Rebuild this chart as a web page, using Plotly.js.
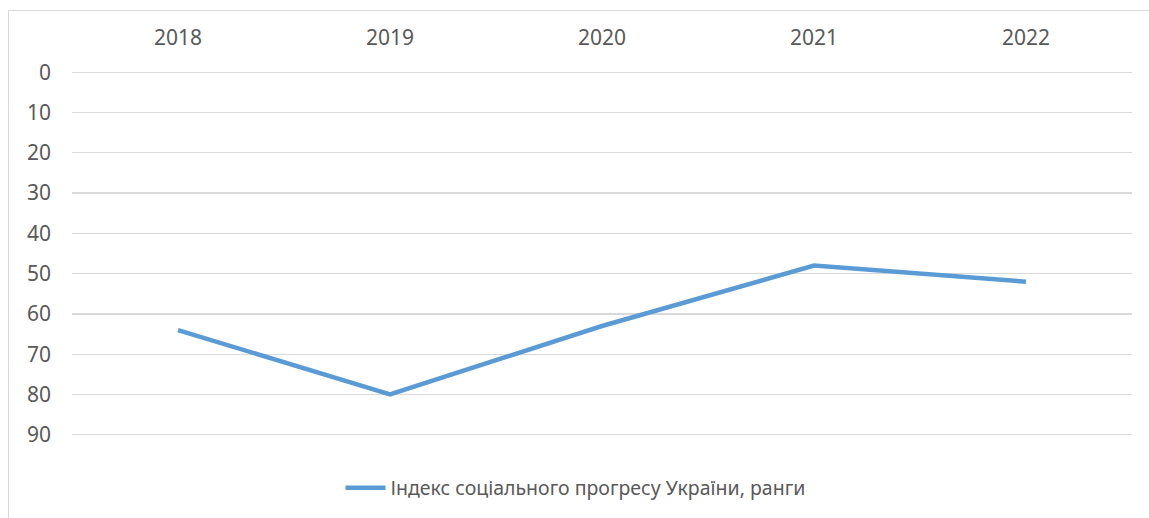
<!DOCTYPE html>
<html>
<head>
<meta charset="utf-8">
<script src="https://cdn.plot.ly/plotly-3.0.1.min.js"></script>
<style>
  html, body { margin: 0; padding: 0; width: 1149px; height: 518px; overflow: hidden; background: #fff; }
  #frame { position: absolute; left: 8px; top: 10px; width: 1300px; height: 700px; border: 1px solid #D9D9D9; box-sizing: border-box; pointer-events: none; }
  #chart { position: absolute; left: 0; top: 0; width: 1149px; height: 518px; }
</style>
</head>
<body>
<div id="chart"></div>
<div id="frame"></div>
<script>
const years = ['2018', '2019', '2020', '2021', '2022'];
const ranks = [64, 80, 63, 48, 52];
const yTicks = [0, 10, 20, 30, 40, 50, 60, 70, 80, 90];
const seriesName = 'Індекс соціального прогресу України, ранги';

const font = { family: '"Noto Sans", "Open Sans", sans-serif', size: 21, color: '#595959' };
const legendFont = { family: '"Noto Sans", "Open Sans", sans-serif', size: 19.5, color: '#595959' };

const trace = {
  x: years,
  y: ranks,
  type: 'scatter',
  mode: 'lines',
  name: seriesName,
  line: { color: '#5B9BD5', width: 4.5, shape: 'linear' },
  hoverinfo: 'x+y'
};

const layout = {
  width: 1149,
  height: 518,
  margin: { l: 72, r: 17, t: 71, b: 82, autoexpand: false },
  paper_bgcolor: '#ffffff',
  plot_bgcolor: '#ffffff',
  font: font,
  showlegend: true,
  legend: {
    orientation: 'h',
    xref: 'paper',
    x: 0.475, xanchor: 'center',
    yref: 'container',
    y: 0.058, yanchor: 'middle',
    font: legendFont,
    itemwidth: 40,
    bgcolor: 'rgba(0,0,0,0)'
  },
  xaxis: {
    type: 'category',
    side: 'top',
    range: [-0.5, 4.5],
    showgrid: false,
    zeroline: false,
    showline: false,
    ticks: '',
    ticklabelstandoff: 21,
    tickfont: font,
    fixedrange: true
  },
  yaxis: {
    range: [90.3, -0.3],
    tickvals: yTicks,
    ticktext: yTicks.map(String),
    showgrid: true,
    gridcolor: '#D9D9D9',
    gridwidth: 1.3,
    zeroline: false,
    showline: false,
    ticks: '',
    ticklabelstandoff: 20,
    tickfont: font,
    fixedrange: true
  }
};

Plotly.newPlot('chart', [trace], layout, { displayModeBar: false, staticPlot: true });
</script>
</body>
</html>
